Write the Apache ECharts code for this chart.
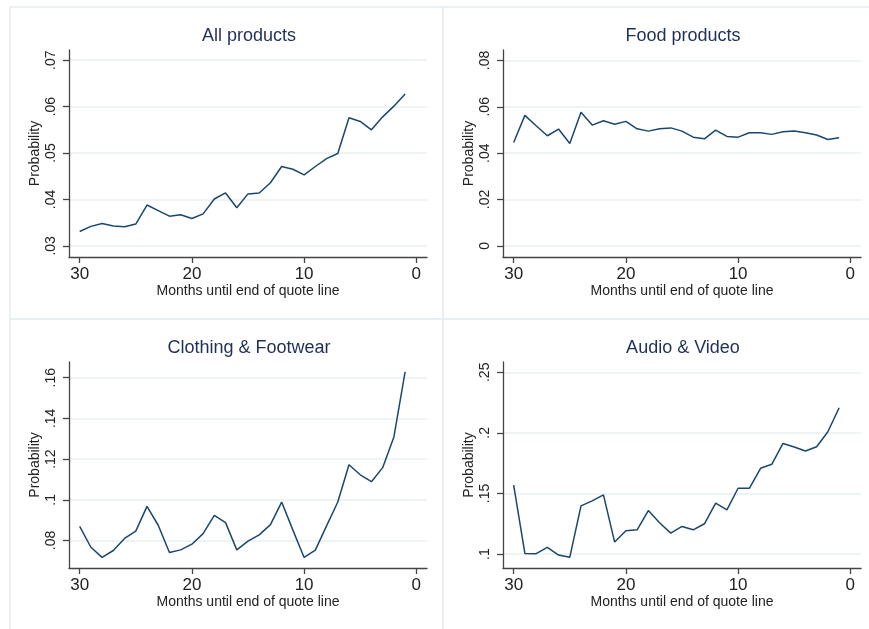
<!DOCTYPE html>
<html>
<head>
<meta charset="utf-8">
<script src="https://cdn.jsdelivr.net/npm/echarts@6/dist/echarts.min.js"></script>
<style>
  html, body { margin: 0; padding: 0; background: #fff; }
  #chart { width: 869px; height: 629px; }
</style>
</head>
<body>
<div id="chart"></div>
<script>
// months until end of quote line (x values)
var months = [30, 29, 28, 27, 26, 25, 24, 23, 22, 21, 20, 19, 18, 17, 16, 15,
              14, 13, 12, 11, 10, 9, 8, 7, 6, 5, 4, 3, 2, 1];

var allProducts = [.0331, .0342, .0348, .0343, .0341, .0347, .0388, .0376, .0364, .0367,
                   .0359, .0369, .0401, .0414, .0382, .0412, .0414, .0436, .0471, .0465,
                   .0453, .0471, .0488, .0499, .0576, .0568, .0550, .0578, .0601, .0627];
var foodProducts = [.0446, .0563, .0518, .0475, .0504, .0442, .0576, .0521, .0540, .0525,
                    .0537, .0505, .0495, .0505, .0509, .0495, .0469, .0462, .0499, .0472,
                    .0469, .0488, .0488, .0481, .0492, .0496, .0488, .0478, .0459, .0466];
var clothingFootwear = [.0869, .0767, .0717, .0751, .0810, .0846, .0968, .0875, .0741, .0754,
                        .0782, .0834, .0924, .0888, .0754, .0797, .0828, .0878, .0989, .0851,
                        .0717, .0753, .0872, .0989, .1172, .1123, .1089, .1158, .1309, .1628];
var audioVideo = [.1568, .1005, .1003, .1055, .0992, .0973, .1398, .1439, .1488, .1099,
                  .1192, .1200, .1359, .1258, .1173, .1228, .1200, .1250, .1420, .1365,
                  .1543, .1543, .1708, .1741, .1913, .1883, .1850, .1886, .2009, .2207];

var xTicks = [0, 10, 20, 30];
var yTicks1 = [.03, .04, .05, .06, .07];
var yTicks2 = [0, .02, .04, .06, .08];
var yTicks3 = [.08, .1, .12, .14, .16];
var yTicks4 = [.1, .15, .2, .25];

var panelTitles = ['All products', 'Food products', 'Clothing & Footwear', 'Audio & Video'];

var font = 'Liberation Sans, Arial, Helvetica, sans-serif';
var lineColor = '#1a476f';
var gridColor = '#e9eff1';

function fmt(v) {
    // Stata style: drop leading zero
    var s = String(+v.toFixed(4));
    return s.replace(/^0\./, '.');
}

var grids = [
    { left: 69, right: 442, top: 50, bottom: 372 },
    { left: 503, right: 8, top: 50, bottom: 372 },
    { left: 69, right: 442, top: 362, bottom: 61 },
    { left: 503, right: 8, top: 362, bottom: 61 }
];
var yRanges = [[.0276, .0722], [-.0048, .0845], [.0665, .1677], [.0885, .2585]];
var yTickSets = [yTicks1, yTicks2, yTicks3, yTicks4];
var seriesData = [allProducts, foodProducts, clothingFootwear, audioVideo];

var xAxes = [], yAxes = [], series = [], titles = [];
for (var i = 0; i < 4; i++) {
    xAxes.push({
        type: 'value', gridIndex: i, inverse: true, min: -0.95, max: 30.95,
        name: 'Months until end of quote line', nameLocation: 'middle', nameGap: 27,
        nameTextStyle: { fontFamily: font, fontSize: 14, color: '#222' },
        axisLine: { onZero: false, lineStyle: { color: '#444', width: 1.3 } },
        axisTick: { show: true, length: 6, customValues: xTicks, lineStyle: { color: '#444', width: 1.3 } },
        axisLabel: { customValues: xTicks, fontFamily: font, fontSize: 17, color: '#222', margin: 9 },
        splitLine: { show: false }
    });
    yAxes.push({
        type: 'value', gridIndex: i, min: yRanges[i][0], max: yRanges[i][1],
        name: 'Probability', nameLocation: 'middle', nameGap: 27,
        nameTextStyle: { fontFamily: font, fontSize: 14, color: '#222' },
        axisLine: { show: true, onZero: false, lineStyle: { color: '#444', width: 1.3 } },
        axisTick: { show: true, length: 6, customValues: yTickSets[i], lineStyle: { color: '#444', width: 1.3 } },
        axisLabel: { customValues: yTickSets[i], rotate: 90, fontFamily: font, fontSize: 14, color: '#222',
                     margin: 11, formatter: fmt },
        splitLine: { show: true, lineStyle: { color: gridColor, width: 1.5 } }
    });
    series.push({
        type: 'line', xAxisIndex: i, yAxisIndex: i, symbol: 'none',
        lineStyle: { color: lineColor, width: 1.5 },
        data: months.map(function (m, k) { return [m, seriesData[i][k]]; })
    });
    var cx = i % 2 === 0 ? 244 : 678;
    titles.push({
        text: panelTitles[i], left: cx, top: i < 2 ? 22 : 334, textAlign: 'center',
        textStyle: { fontFamily: font, fontSize: 18, fontWeight: 'normal', color: '#1f2f57' }
    });
}

var chart = echarts.init(document.getElementById('chart'));
chart.setOption({
    backgroundColor: '#fff',
    animation: false,
    title: titles,
    grid: grids,
    xAxis: xAxes,
    yAxis: yAxes,
    series: series,
    graphic: [
        { type: 'rect', shape: { x: 10, y: 7, width: 433, height: 312 }, style: { fill: 'none', stroke: '#e6eef0', lineWidth: 1.5 }, silent: true, z: -1 },
        { type: 'rect', shape: { x: 443, y: 7, width: 440, height: 312 }, style: { fill: 'none', stroke: '#e6eef0', lineWidth: 1.5 }, silent: true, z: -1 },
        { type: 'rect', shape: { x: 10, y: 319, width: 433, height: 320 }, style: { fill: 'none', stroke: '#e6eef0', lineWidth: 1.5 }, silent: true, z: -1 },
        { type: 'rect', shape: { x: 443, y: 319, width: 440, height: 320 }, style: { fill: 'none', stroke: '#e6eef0', lineWidth: 1.5 }, silent: true, z: -1 }
    ]
});
</script>
</body>
</html>
